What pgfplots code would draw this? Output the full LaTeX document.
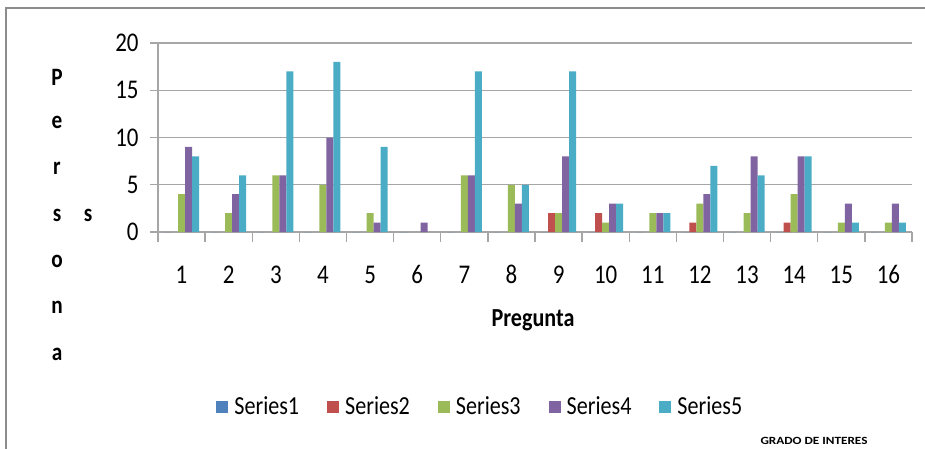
\documentclass[border=0pt]{standalone}
\usepackage{fontspec}
\setmainfont{Carlito}[FakeStretch=0.85]
\newfontfamily\widefont{Carlito}[FakeStretch=1.2]
\usepackage{pgfplots}
\pgfplotsset{compat=1.18}
\definecolor{s1}{HTML}{4F81BD}
\definecolor{s2}{HTML}{C0504D}
\definecolor{s3}{HTML}{9BBB59}
\definecolor{s4}{HTML}{8064A2}
\definecolor{s5}{HTML}{4BACC6}
\definecolor{gridc}{HTML}{A6A6A6}
\definecolor{framec}{HTML}{8C8C8C}
\begin{document}
\begin{tikzpicture}
\path[use as bounding box] (0,0) rectangle (462.5pt,-224.5pt);
\draw[framec, line width=1pt] (3pt,-224.5pt) -- (3pt,-4pt) -- (462.5pt,-4pt);
\begin{axis}[
  at={(79pt,-116pt)}, anchor=south west,
  scale only axis, width=377pt, height=94.5pt,
  xmin=0.5, xmax=16.5, ymin=0, ymax=20,
  ybar=0pt, bar width=3.5pt,
  axis x line*=bottom, axis y line*=left,
  axis line style={gridc, line width=0.7pt, -},
  xtick={1,...,16},
  minor xtick={0.5,1.5,...,16.5},
  major x tick style={draw=none},
  minor x tick style={gridc, line width=0.7pt},
  ytick={0,5,10,15,20},
  major y tick style={gridc, line width=0.7pt},
  tick align=outside,
  major tick length=4pt, minor tick length=5pt,
  ymajorgrids, grid style={gridc, line width=0.7pt},
  tick label style={font=\fontsize{13.5}{16}\selectfont, black},
  /pgf/number format/assume math mode=true,
  xticklabel style={anchor=base, yshift=-21.5pt},
  yticklabel style={anchor=east, inner sep=0pt, xshift=-5.5pt},
  legend style={at={(0.0769,-0.926)}, anchor=west, draw=none, inner sep=0pt,
     legend columns=5, font=\fontsize{13}{15}\selectfont,
     /tikz/every odd column/.style={column sep=1pt},
     /tikz/every even column/.style={column sep=12pt}},
  legend image code/.code={\fill[#1] (0pt,-3pt) rectangle (6pt,3pt);},
]
\addplot[fill=s1, draw=none] coordinates {(1,0) (2,0) (3,0) (4,0) (5,0) (6,0) (7,0) (8,0) (9,0) (10,0) (11,0) (12,0) (13,0) (14,0) (15,0) (16,0)};
\addplot[fill=s2, draw=none] coordinates {(9,2) (10,2) (12,1) (14,1)};
\addplot[fill=s3, draw=none] coordinates {(1,4) (2,2) (3,6) (4,5) (5,2) (7,6) (8,5) (9,2) (10,1) (11,2) (12,3) (13,2) (14,4) (15,1) (16,1)};
\addplot[fill=s4, draw=none] coordinates {(1,9) (2,4) (3,6) (4,10) (5,1) (6,1) (7,6) (8,3) (9,8) (10,3) (11,2) (12,4) (13,8) (14,8) (15,3) (16,3)};
\addplot[fill=s5, draw=none] coordinates {(1,8) (2,6) (3,17) (4,18) (5,9) (7,17) (8,5) (9,17) (10,3) (11,2) (12,7) (13,6) (14,8) (15,1) (16,1)};
\legend{Series1,Series2,Series3,Series4,Series5}
\end{axis}
\begin{scope}[font=\fontsize{12.5}{14}\selectfont\bfseries]
\node at (28.5pt,-38.5pt) {P};
\node at (28.5pt,-61pt) {e};
\node at (28.5pt,-84pt) {r};
\node at (28.5pt,-107.5pt) {s};
\node at (28.5pt,-130.5pt) {o};
\node at (28.5pt,-153.5pt) {n};
\node at (28.5pt,-177pt) {a};
\node at (44pt,-107.5pt) {s};
\end{scope}
\node[font=\fontsize{13}{15}\selectfont\bfseries] at (266.5pt,-160pt) {Pregunta};
\node[font=\widefont\fontsize{5.5}{6}\selectfont\bfseries] at (407pt,-220.5pt) {GRADO DE INTERES};
\end{tikzpicture}
\end{document}
